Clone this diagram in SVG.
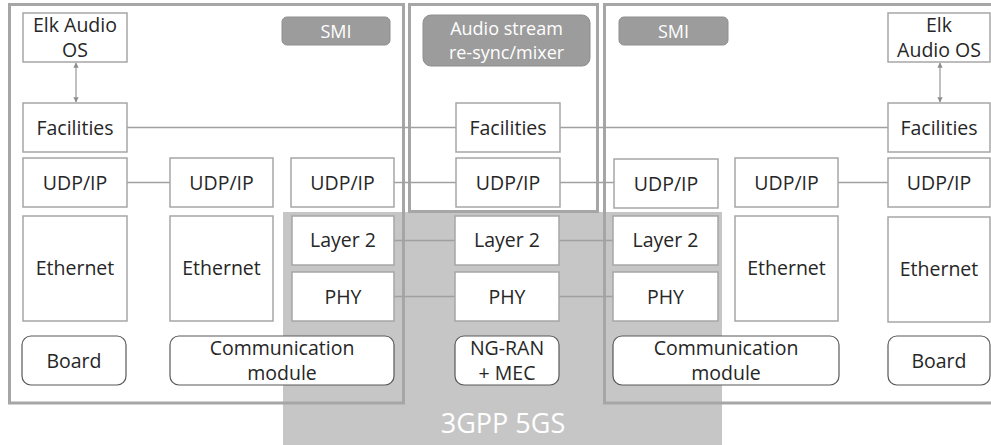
<svg xmlns="http://www.w3.org/2000/svg" width="991" height="445" viewBox="0 0 991 445">
<defs>
<style>
.frame{fill:none;stroke:#a6a6a6;stroke-width:3}
.box{fill:#fff;stroke:#a6a6a6;stroke-width:1.5}
.rbox{fill:#fff;stroke:#595959;stroke-width:1.2}
.gbox{fill:#9c9c9c;stroke:#8e8e8e;stroke-width:1}
.t{font-family:"Open Sans","Liberation Sans",sans-serif;font-size:19.5px;fill:#262626;text-anchor:middle}
.w{font-family:"Open Sans","Liberation Sans",sans-serif;font-size:18px;fill:#fff;text-anchor:middle}
.ln{stroke:#a0a0a0;stroke-width:1.3;fill:none}
</style>
<marker id="ah" viewBox="0 0 10 10" refX="9" refY="5" markerWidth="4" markerHeight="4" orient="auto-start-reverse">
<path d="M0,0 L10,5 L0,10 z" fill="#8c8c8c"/>
</marker>
</defs>
<rect width="991" height="445" fill="#fff"/>
<g id="region-3gpp">
<rect x="283" y="212" width="439" height="233" fill="#c6c6c6"/>
<text x="503" y="433" font-family="Open Sans, Liberation Sans, sans-serif" font-size="27" fill="#fff" text-anchor="middle">3GPP 5GS</text>
</g>
<g id="frames">
<rect class="frame" x="9.5" y="4.5" width="394" height="398.5"/>
<rect class="frame" x="409.5" y="4.5" width="188" height="207"/>
<rect class="frame" x="604.5" y="4.5" width="392" height="398.5"/>
</g>
<g id="connectors">
<line class="ln" x1="127" y1="127.5" x2="456" y2="127.5"/>
<line class="ln" x1="560" y1="127.5" x2="888" y2="127.5"/>
<line class="ln" x1="127" y1="182.5" x2="170" y2="182.5"/>
<line class="ln" x1="394" y1="182.5" x2="456" y2="182.5"/>
<line class="ln" x1="560" y1="182.5" x2="614" y2="182.5"/>
<line class="ln" x1="838" y1="182.5" x2="888" y2="182.5"/>
<line class="ln" x1="394" y1="240.5" x2="455" y2="240.5"/>
<line class="ln" x1="559" y1="240.5" x2="613" y2="240.5"/>
<line class="ln" x1="394" y1="296.5" x2="455" y2="296.5"/>
<line class="ln" x1="559" y1="296.5" x2="613" y2="296.5"/>
<line class="ln" x1="76" y1="63" x2="76" y2="102" marker-start="url(#ah)" marker-end="url(#ah)"/>
<line class="ln" x1="940" y1="63" x2="940" y2="102" marker-start="url(#ah)" marker-end="url(#ah)"/>
</g>
<g id="smi-left"><rect class="gbox" x="282" y="17" width="108" height="28" rx="5"/><text class="w" x="336" y="37.5">SMI</text></g>
<g id="elk-left"><rect class="box" x="23" y="13" width="104" height="49"/><text class="t" x="75" y="32">Elk Audio</text><text class="t" x="75" y="57">OS</text></g>
<g id="fac-left"><rect class="box" x="23" y="103" width="104" height="49"/><text class="t" x="75" y="135">Facilities</text></g>
<g id="udp-left1"><rect class="box" x="23" y="158" width="104" height="49"/><text class="t" x="75" y="189.5">UDP/IP</text></g>
<g id="udp-left2"><rect class="box" x="170" y="158" width="103" height="49"/><text class="t" x="221.5" y="189.5">UDP/IP</text></g>
<g id="udp-left3"><rect class="box" x="291" y="158" width="103" height="49"/><text class="t" x="342.5" y="189.5">UDP/IP</text></g>
<g id="eth-left1"><rect class="box" x="23" y="216" width="104" height="105"/><text class="t" x="75" y="275">Ethernet</text></g>
<g id="eth-left2"><rect class="box" x="170" y="216" width="103" height="105"/><text class="t" x="221.5" y="275">Ethernet</text></g>
<g id="l2-left"><rect class="box" x="292" y="216" width="102" height="49"/><text class="t" x="343" y="247">Layer 2</text></g>
<g id="phy-left"><rect class="box" x="292" y="272" width="102" height="49"/><text class="t" x="343" y="303.5">PHY</text></g>
<g id="board-left"><rect class="rbox" x="22" y="336" width="104" height="49" rx="9"/><text class="t" x="74" y="367.5">Board</text></g>
<g id="comm-left"><rect class="rbox" x="170" y="336" width="224" height="49" rx="9"/><text class="t" x="282" y="355">Communication</text><text class="t" x="282" y="380">module</text></g>
<g id="audio-mixer"><rect class="gbox" x="423" y="15" width="167" height="51" rx="8"/><text class="w" x="506.5" y="35">Audio stream</text><text class="w" x="506.5" y="59">re-sync/mixer</text></g>
<g id="fac-mid"><rect class="box" x="456" y="103" width="104" height="49"/><text class="t" x="508" y="135">Facilities</text></g>
<g id="udp-mid"><rect class="box" x="456" y="158" width="104" height="49"/><text class="t" x="508" y="189.5">UDP/IP</text></g>
<g id="l2-mid"><rect class="box" x="455" y="216" width="104" height="49"/><text class="t" x="507" y="247">Layer 2</text></g>
<g id="phy-mid"><rect class="box" x="455" y="272" width="104" height="49"/><text class="t" x="507" y="303.5">PHY</text></g>
<g id="ngran"><rect class="rbox" x="455" y="336" width="104" height="49" rx="9"/><text class="t" x="507" y="355">NG-RAN</text><text class="t" x="507" y="380">+ MEC</text></g>
<g id="smi-right"><rect class="gbox" x="619" y="17" width="109" height="28" rx="5"/><text class="w" x="673.5" y="37.5">SMI</text></g>
<g id="elk-right"><rect class="box" x="888" y="13" width="102" height="49"/><text class="t" x="939" y="32">Elk</text><text class="t" x="939" y="57">Audio OS</text></g>
<g id="fac-right"><rect class="box" x="888" y="103" width="102" height="49"/><text class="t" x="939" y="135">Facilities</text></g>
<g id="udp-right1"><rect class="box" x="614" y="159" width="104" height="49"/><text class="t" x="666" y="190.5">UDP/IP</text></g>
<g id="udp-right2"><rect class="box" x="735" y="158" width="103" height="49"/><text class="t" x="786.5" y="189.5">UDP/IP</text></g>
<g id="udp-right3"><rect class="box" x="888" y="158" width="102" height="49"/><text class="t" x="939" y="189.5">UDP/IP</text></g>
<g id="l2-right"><rect class="box" x="613" y="216" width="105" height="49"/><text class="t" x="665.5" y="247">Layer 2</text></g>
<g id="phy-right"><rect class="box" x="613" y="272" width="105" height="49"/><text class="t" x="665.5" y="303.5">PHY</text></g>
<g id="eth-right1"><rect class="box" x="735" y="216" width="103" height="105"/><text class="t" x="786.5" y="275">Ethernet</text></g>
<g id="eth-right2"><rect class="box" x="888" y="217" width="102" height="105"/><text class="t" x="939" y="276">Ethernet</text></g>
<g id="comm-right"><rect class="rbox" x="613" y="336" width="226" height="49" rx="9"/><text class="t" x="726" y="355">Communication</text><text class="t" x="726" y="380">module</text></g>
<g id="board-right"><rect class="rbox" x="888" y="336" width="102" height="49" rx="9"/><text class="t" x="939" y="367.5">Board</text></g>
</svg>
